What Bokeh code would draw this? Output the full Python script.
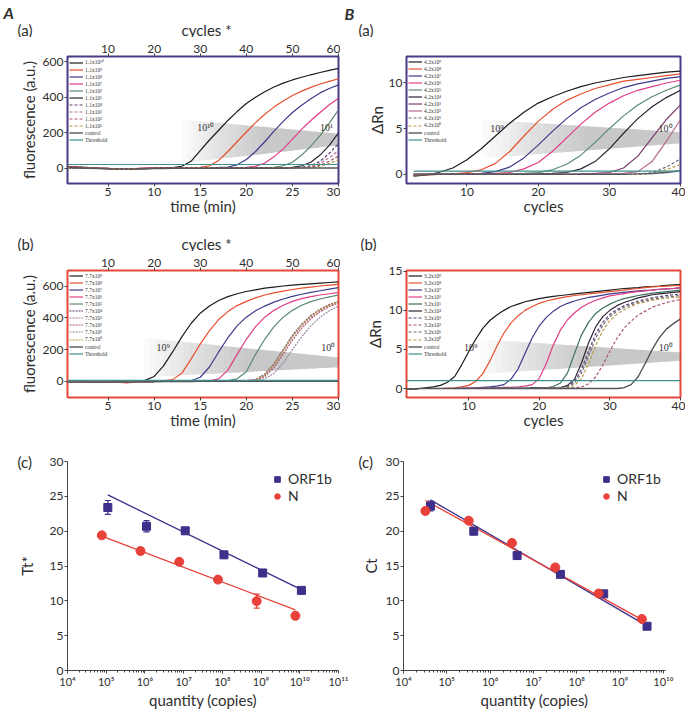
import math
from bokeh.plotting import figure
from bokeh.layouts import row, column
from bokeh.models import (Range1d, LinearAxis, FixedTicker, Label, Legend, LegendItem,
                          ColumnDataSource, Whisker, TeeHead, CustomJSTickFormatter, Title)
from bokeh.embed import file_html
from bokeh.resources import INLINE

FONT = "Lato"
TXT = "#2e2e2e"
SUP = str.maketrans("0123456789-", "⁰¹²³⁴⁵⁶⁷⁸⁹⁻")

# ---------------------------------------------------------------- colours
BLACK, RED, BLUE, PINK = "#1c1c1c", "#e8502e", "#3d3a8c", "#e23d87"
GREEN, DARK, CONTROL, THRESH = "#5b8a72", "#2b2233", "#55555f", "#3f8f8c"
D_PURPLE, D_MAUVE, D_ROSE, D_OLIVE, D_GREY = "#5b3f73", "#b0708e", "#a8556a", "#b99a45", "#6e6878"
FRAME_A, FRAME_B = "#4a3a88", "#e5493a"
ORF_C, N_C = "#3d2f8a", "#e8413a"

# ---------------------------------------------------------------- A(a) data
AA_TIME = [0.6, 2, 4, 6, 8, 10, 11, 12, 13, 14, 15, 16, 17, 18, 19, 20, 21, 22, 23, 24, 25, 26, 27, 28, 29, 30]
AA_PREFIX = "1.1x"
AA_EXP = [10, 9, 8, 7, 6, 5, 4, 3, 2, 1]
AA_CURVES = [
    [10, 8, 2, -3, -1, 2, 3, 5, 12, 40, 100, 160, 215, 270, 320, 365, 400, 432, 458, 480, 498, 513, 527, 540, 552, 563],
    [8, 6, 1, -3, -1, 1, 2, 3, 4, 5, 6, 15, 45, 95, 150, 205, 258, 305, 345, 380, 410, 435, 456, 475, 490, 505],
    [6, 5, 1, -2, -1, 1, 2, 2, 3, 3, 4, 5, 6, 8, 20, 50, 95, 150, 210, 265, 315, 355, 392, 425, 450, 470],
    [6, 5, 1, -2, -1, 1, 1, 2, 2, 3, 3, 3, 4, 4, 5, 6, 12, 30, 65, 110, 165, 220, 270, 315, 358, 395],
    [5, 4, 1, -2, -1, 0, 1, 1, 2, 2, 3, 3, 3, 4, 4, 4, 5, 5, 6, 15, 35, 75, 125, 185, 255, 330],
    [5, 4, 0, -3, -2, 0, 1, 1, 1, 2, 2, 2, 3, 3, 3, 3, 4, 4, 4, 5, 6, 15, 35, 75, 130, 200],
    [4, 3, 0, -3, -2, 0, 0, 1, 1, 1, 2, 2, 2, 2, 3, 3, 3, 3, 4, 4, 5, 6, 15, 40, 85, 140],
    [4, 3, 0, -3, -2, 0, 0, 1, 1, 1, 1, 2, 2, 2, 2, 3, 3, 3, 3, 4, 4, 4, 10, 28, 60, 100],
    [4, 3, 0, -3, -2, 0, 0, 0, 1, 1, 1, 1, 2, 2, 2, 2, 3, 3, 3, 3, 4, 4, 5, 18, 40, 70],
    [3, 2, 0, -3, -2, 0, 0, 0, 1, 1, 1, 1, 1, 2, 2, 2, 2, 2, 3, 3, 3, 3, 4, 12, 28, 50],
]
AA_CONTROL = [3, 2, -1, -4, -3, -1, -1, 0, 0, 0, 0, 0, 1, 1, 1, 1, 1, 1, 1, 1, 2, 2, 2, 2, 2, 2]
AA_THRESHOLD = 22
AA_WEDGE = [13.0, 30.0, 275, 30, 195, 130]      # x0, x1, top0, bottom0, top1, bottom1
AA_WLABELS = [(15.6, 228, "10¹⁰"), (28.7, 228, "10¹")]

# ---------------------------------------------------------------- A(b) data
AB_TIME = [0.6, 2, 4, 6, 7, 8, 9, 10, 11, 12, 13, 14, 15, 16, 17, 18, 19, 20, 21, 22, 23, 24, 25, 26, 27, 28, 29, 30]
AB_PREFIX = "7.7x"
AB_EXP = [9, 8, 7, 6, 5, 4, 3, 2, 1, 0]
AB_CURVES = [
    [-5, -3, -6, -4, -3, -2, 5, 30, 95, 185, 280, 365, 430, 475, 510, 535, 553, 567, 578, 588, 595, 602, 607, 612, 616, 620, 624, 628],
    [-4, -3, -5, -6, -10, -6, -2, 0, 2, 10, 50, 140, 235, 320, 390, 440, 478, 505, 527, 545, 558, 570, 580, 588, 595, 602, 607, 612],
    [-5, -4, -5, -4, -4, -3, -2, -1, 0, 0, 1, 3, 25, 90, 185, 275, 350, 405, 445, 475, 500, 520, 536, 550, 562, 572, 582, 592],
    [-4, -3, -4, -3, -3, -2, -2, -1, 0, 0, 0, 1, 1, 3, 15, 70, 170, 265, 345, 405, 448, 480, 505, 522, 535, 545, 553, 560],
    [-4, -3, -4, -3, -3, -2, -2, -1, 0, 0, 0, 1, 1, 1, 2, 4, 15, 60, 170, 265, 345, 405, 448, 480, 503, 520, 533, 545],
    [-5, -4, -5, -4, -4, -3, -2, -2, -1, -1, 0, 0, 0, 1, 1, 1, 2, 3, 10, 45, 110, 200, 290, 360, 415, 455, 485, 505],
    [-5, -4, -5, -4, -4, -3, -2, -2, -1, -1, 0, 0, 0, 1, 1, 1, 2, 3, 8, 38, 100, 190, 280, 352, 408, 450, 480, 500],
    [-5, -4, -5, -4, -4, -3, -2, -2, -1, -1, 0, 0, 0, 1, 1, 1, 2, 2, 5, 30, 85, 170, 260, 335, 395, 440, 472, 495],
    [-5, -4, -5, -4, -4, -3, -2, -2, -1, -1, 0, 0, 0, 1, 1, 1, 1, 2, 3, 15, 50, 115, 200, 280, 350, 405, 445, 475],
    [-5, -4, -5, -4, -4, -3, -2, -2, -1, -1, 0, 0, 0, 1, 1, 1, 2, 3, 9, 42, 105, 195, 285, 356, 410, 452, 482, 502],
]
AB_CONTROL = [-6, -5, -7, -5, -5, -4, -3, -3, -2, -2, -2, -2, -1, -1, -1, -1, -1, 0, 0, 0, 0, 0, 0, 0, 0, 0, 0, 0]
AB_THRESHOLD = 5
AB_WEDGE = [8.8, 30.0, 275, 25, 150, 88]
AB_WLABELS = [(11.0, 211, "10⁹"), (28.9, 211, "10⁰")]

# ---------------------------------------------------------------- B(a) data
BA_CYC = [2.5, 4, 6, 8, 10, 12, 14, 16, 18, 20, 22, 24, 26, 28, 30, 32, 34, 36, 38, 40]
BA_PREFIX = "4.2x"
BA_EXP = [9, 8, 7, 6, 5, 4, 3, 2, 1, 0]
BA_CURVES = [
    [-0.2, -0.1, 0.2, 0.7, 1.6, 2.8, 4.2, 5.6, 6.8, 7.8, 8.5, 9.1, 9.6, 10.0, 10.3, 10.6, 10.8, 11.0, 11.2, 11.3],
    [-0.1, -0.05, 0.0, 0.05, 0.2, 0.5, 1.2, 2.5, 4.2, 5.8, 7.1, 8.1, 8.8, 9.4, 9.8, 10.2, 10.4, 10.6, 10.8, 11.0],
    [-0.05, 0.0, 0.0, 0.0, 0.05, 0.1, 0.3, 0.8, 1.8, 3.2, 4.7, 6.1, 7.3, 8.2, 8.9, 9.5, 9.9, 10.2, 10.5, 10.7],
    [0.0, 0.0, 0.0, 0.0, 0.0, 0.05, 0.1, 0.2, 0.6, 1.3, 2.5, 4.0, 5.5, 6.8, 7.8, 8.6, 9.2, 9.6, 10.0, 10.3],
    [0.0, 0.0, 0.0, 0.0, 0.0, 0.0, 0.0, 0.05, 0.1, 0.2, 0.5, 1.1, 2.1, 3.5, 5.0, 6.4, 7.6, 8.5, 9.2, 9.8],
    [0.0, 0.0, 0.0, 0.0, 0.0, 0.0, 0.0, 0.0, 0.0, 0.05, 0.1, 0.2, 0.6, 1.4, 2.8, 4.5, 6.1, 7.4, 8.4, 9.2],
    [0.0, 0.0, 0.0, 0.0, 0.0, 0.0, 0.0, 0.0, 0.0, 0.0, 0.0, 0.0, 0.05, 0.1, 0.2, 0.7, 2.0, 4.0, 6.0, 7.6],
    [0.0, 0.0, 0.0, 0.0, 0.0, 0.0, 0.0, 0.0, 0.0, 0.0, 0.0, 0.0, 0.0, 0.0, 0.05, 0.1, 0.3, 1.4, 3.6, 6.0],
    [0.0, 0.0, 0.0, 0.0, 0.0, 0.0, 0.0, 0.0, 0.0, 0.0, 0.0, 0.0, 0.0, 0.0, 0.0, 0.0, 0.0, 0.2, 0.8, 1.7],
    [0.0, 0.0, 0.0, 0.0, 0.0, 0.0, 0.0, 0.0, 0.0, 0.0, 0.0, 0.0, 0.0, 0.0, 0.0, 0.0, 0.0, 0.1, 0.5, 1.1],
]
BA_CONTROL = [-0.1, -0.05, 0.0, 0.0, 0.0, 0.0, 0.0, 0.0, 0.0, 0.0, 0.0, 0.0, 0.0, 0.0, 0.0, 0.0, 0.05, 0.1, 0.2, 0.4]
BA_THRESHOLD = 0.35
BA_WEDGE = [12.2, 40.0, 6.0, 1.75, 4.6, 3.4]
BA_WLABELS = [(14.2, 5.05, "10⁹"), (37.9, 5.05, "10⁰")]

# ---------------------------------------------------------------- B(b) data
BB_CYC = [1.2, 3, 5, 6, 7, 8, 9, 10, 11, 12, 13, 14, 15, 16, 17, 18, 19, 20, 21, 22, 23, 24,
          25, 26, 27, 28, 29, 30, 31, 32, 33, 34, 35, 36, 37, 38, 39, 40]
BB_PREFIX = "3.2x"
BB_EXP = [9, 8, 7, 6, 5, 4, 3, 2, 1, 0]
BB_CURVES = [
    [-0.1, 0.0, 0.2, 0.4, 0.8, 1.5, 3.0, 4.7, 6.3, 7.7, 8.7, 9.4, 10.0, 10.5, 10.8, 11.1, 11.3, 11.5,
     11.65, 11.8, 11.9, 12.0, 12.1, 12.2, 12.3, 12.4, 12.5, 12.6, 12.7, 12.8, 12.85, 12.9, 13.0, 13.05, 13.1, 13.2, 13.25, 13.3],
    [-0.1, 0.0, 0.0, 0.0, 0.05, 0.1, 0.2, 0.4, 0.9, 1.9, 3.5, 5.4, 7.1, 8.4, 9.3, 10.0, 10.5, 10.9,
     11.2, 11.4, 11.6, 11.75, 11.9, 12.0, 12.1, 12.2, 12.3, 12.4, 12.5, 12.6, 12.7, 12.8, 12.9, 13.0, 13.05, 13.1, 13.15, 13.2],
    [-0.1, 0.0, 0.0, 0.0, 0.0, 0.0, 0.05, 0.05, 0.1, 0.15, 0.2, 0.3, 0.5, 1.2, 2.5, 4.5, 6.5, 8.0,
     9.1, 9.9, 10.5, 10.9, 11.2, 11.45, 11.65, 11.8, 11.95, 12.1, 12.2, 12.3, 12.4, 12.5, 12.55, 12.6, 12.7, 12.75, 12.8, 12.9],
    [-0.1, 0.0, 0.0, 0.0, 0.0, 0.0, 0.0, 0.05, 0.05, 0.1, 0.1, 0.1, 0.15, 0.15, 0.2, 0.3, 0.5, 1.3,
     3.2, 5.6, 7.5, 8.8, 9.7, 10.4, 10.9, 11.3, 11.6, 11.85, 12.0, 12.15, 12.3, 12.4, 12.5, 12.6, 12.7, 12.75, 12.8, 12.9],
    [-0.1, 0.0, 0.0, 0.0, 0.0, 0.0, 0.0, 0.0, 0.0, 0.05, 0.05, 0.05, 0.05, 0.05, 0.05, 0.05, 0.1, 0.1,
     0.1, 0.25, 0.7, 2.0, 4.5, 6.9, 8.5, 9.6, 10.3, 10.8, 11.2, 11.5, 11.7, 11.9, 12.05, 12.2, 12.3, 12.4, 12.5, 12.6],
    [-0.1, 0.0, 0.0, 0.0, 0.0, 0.0, 0.0, 0.0, 0.0, 0.0, 0.0, 0.0, 0.0, 0.0, 0.0, 0.0, 0.05, 0.05,
     0.05, 0.05, 0.1, 0.4, 1.2, 3.3, 5.9, 7.9, 9.2, 10.0, 10.6, 11.0, 11.3, 11.6, 11.8, 12.0, 12.1, 12.2, 12.3, 12.4],
    [-0.1, 0.0, 0.0, 0.0, 0.0, 0.0, 0.0, 0.0, 0.0, 0.0, 0.0, 0.0, 0.0, 0.0, 0.0, 0.0, 0.0, 0.05,
     0.05, 0.1, 0.15, 0.3, 0.9, 2.5, 4.8, 7.0, 8.5, 9.5, 10.1, 10.6, 10.9, 11.2, 11.4, 11.6, 11.75, 11.9, 12.0, 12.1],
    [-0.1, 0.0, 0.0, 0.0, 0.0, 0.0, 0.0, 0.0, 0.0, 0.0, 0.0, 0.0, 0.0, 0.0, 0.0, 0.0, 0.0, 0.0,
     0.0, 0.05, 0.05, 0.1, 0.1, 0.2, 0.6, 1.5, 3.0, 4.8, 6.4, 7.7, 8.6, 9.4, 9.9, 10.4, 10.7, 11.0, 11.2, 11.4],
    [-0.1, 0.0, 0.0, 0.0, 0.0, 0.0, 0.0, 0.0, 0.0, 0.0, 0.0, 0.0, 0.0, 0.0, 0.0, 0.0, 0.0, 0.05,
     0.05, 0.1, 0.1, 0.2, 0.7, 2.0, 4.2, 6.5, 8.1, 9.2, 9.9, 10.4, 10.7, 11.0, 11.2, 11.4, 11.55, 11.7, 11.8, 11.9],
    [-0.1, 0.0, 0.0, 0.0, 0.0, 0.0, 0.0, 0.0, 0.0, 0.0, 0.0, 0.0, 0.0, 0.0, 0.0, 0.0, 0.0, 0.0,
     0.05, 0.05, 0.1, 0.1, 0.4, 1.3, 3.2, 5.5, 7.4, 8.7, 9.5, 10.1, 10.5, 10.9, 11.1, 11.3, 11.45, 11.55, 11.65, 11.7],
]
BB_CONTROL = [-0.1, 0.0, 0.0, 0.0, 0.0, 0.0, 0.0, 0.0, 0.0, 0.0, 0.0, 0.0, 0.0, 0.0, 0.0, 0.0, 0.0, 0.0,
              0.0, 0.0, 0.0, 0.0, 0.0, 0.0, 0.0, 0.0, 0.0, 0.0, 0.0, 0.1, 0.5, 1.5, 3.2, 5.0, 6.5, 7.6, 8.3, 8.9]
BB_THRESHOLD = 1.0
BB_WEDGE = [11.7, 40.0, 6.3, 1.85, 4.6, 3.55]
BB_WLABELS = [(10.3, 5.25, "10⁹"), (37.9, 5.25, "10⁰")]

# ---------------------------------------------------------------- standard curves (c)
AC_ORF_Q = [1.1e5, 1.1e6, 1.1e7, 1.1e8, 1.1e9, 1.1e10]
AC_ORF_TT = [23.4, 20.7, 20.05, 16.6, 14.0, 11.5]
AC_ORF_ERR = [1.0, 0.8, 0.2, 0.4, 0.2, 0.2]
AC_N_Q = [7.7e4, 7.7e5, 7.7e6, 7.7e7, 7.7e8, 7.7e9]
AC_N_TT = [19.4, 17.15, 15.6, 13.05, 9.95, 7.85]
AC_N_ERR = [0.2, 0.4, 0.4, 0.2, 1.0, 0.5]
AC_ORF_FIT_Q, AC_ORF_FIT_TT = [1.1e5, 1.1e10], [25.2, 11.6]
AC_N_FIT_Q, AC_N_FIT_TT = [7.7e4, 7.7e9], [19.3, 8.7]

BC_ORF_Q = [4.2e4, 4.2e5, 4.2e6, 4.2e7, 4.2e8, 4.2e9]
BC_ORF_CT = [23.6, 20.0, 16.5, 13.8, 11.0, 6.35]
BC_ORF_ERR = [0.7, 0.5, 0.5, 0.2, 0.4, 0.2]
BC_N_Q = [3.2e4, 3.2e5, 3.2e6, 3.2e7, 3.2e8, 3.2e9]
BC_N_CT = [22.9, 21.5, 18.3, 14.8, 11.05, 7.4]
BC_N_ERR = [0.2, 0.2, 0.2, 0.2, 0.2, 0.2]
BC_ORF_FIT_Q, BC_ORF_FIT_CT = [4.2e4, 4.2e9], [24.5, 6.4]
BC_N_FIT_Q, BC_N_FIT_CT = [3.2e4, 3.2e9], [24.4, 7.3]

TIME_TICKS = [5, 10, 15, 20, 25, 30]
CYCLE_TOP_TICKS = [10, 20, 30, 40, 50, 60]
CYCLE_TICKS = [10, 20, 30, 40]
FLUOR_TICKS = [0, 200, 400, 600]
RN_TICKS_A = [0, 5, 10]
RN_TICKS_B = [0, 5, 10, 15]
CT_TICKS = [0, 5, 10, 15, 20, 25, 30]
EXP_TICKS_A = [4, 5, 6, 7, 8, 9, 10, 11]
EXP_TICKS_B = [4, 5, 6, 7, 8, 9, 10]

PAGE_W = 685


# ---------------------------------------------------------------- helpers
def base_fig(w, h, mb, xr, yr, **kw):
    p = figure(width=w, height=h, x_range=Range1d(*xr), y_range=Range1d(*yr),
               output_backend="svg", toolbar_location=None,
               min_border_left=mb[0], min_border_right=mb[1],
               min_border_top=mb[2], min_border_bottom=mb[3], **kw)
    p.grid.visible = False
    p.background_fill_color = "white"
    p.border_fill_color = "white"
    return p


def style_axis(ax, line=None, label="", label_standoff=0):
    ax.axis_line_color = line
    ax.major_tick_line_color = "#444444"
    ax.major_tick_out = 3
    ax.major_tick_in = 0
    ax.minor_tick_line_color = None
    ax.major_label_text_font = FONT
    ax.major_label_text_font_size = "12px"
    ax.major_label_text_color = TXT
    ax.major_label_standoff = 1
    ax.axis_label = label
    ax.axis_label_standoff = label_standoff
    ax.axis_label_text_font = FONT
    ax.axis_label_text_font_size = "15px"
    ax.axis_label_text_font_style = "normal"
    ax.axis_label_text_color = TXT


def header(h, texts):
    p = figure(width=PAGE_W, height=h, x_range=Range1d(0, PAGE_W), y_range=Range1d(h, 0),
               output_backend="svg", toolbar_location=None, min_border=0,
               x_axis_location=None, y_axis_location=None)
    p.outline_line_color = None
    p.grid.visible = False
    for s, x, y, size, style, baseline, align in texts:
        p.add_layout(Label(x=x, y=y, text=s, text_font=FONT, text_font_size=size,
                           text_font_style=style, text_baseline=baseline, text_align=align,
                           text_color=TXT))
    return p


def wedge(p, spec, n=16):
    x0, x1, t0, b0, t1, b1 = spec
    xs, ys = [], []
    ramp = 0.55
    for i in range(n):
        f = ramp * i / n
        xa = x0 + (x1 - x0) * f
        ta = t0 + (t1 - t0) * f
        ba = b0 + (b1 - b0) * f
        xs.append([xa, x1, x1, xa])
        ys.append([ta, t1, b1, ba])
    a = 1 - 0.56 ** (1.0 / n)
    p.patches(xs, ys, fill_color="#8c8c8c", fill_alpha=a, line_color=None)


def curve_panel(w, h, mb, xr, yr, frame, x, curves, control, thr, prefix, exps,
                styles, xticks, yticks, wedge_spec, wlabels, top_axis, xlabel, ylabel, ylab_standoff):
    p = base_fig(w, h, mb, xr, yr)
    p.outline_line_color = frame
    p.outline_line_width = 2
    p.xaxis.ticker = FixedTicker(ticks=xticks)
    p.yaxis.ticker = FixedTicker(ticks=yticks)
    style_axis(p.xaxis[0], label=xlabel, label_standoff=-2)
    style_axis(p.yaxis[0], label=ylabel, label_standoff=ylab_standoff)
    if top_axis:
        p.extra_x_ranges = {"cyc": Range1d(2 * xr[0], 2 * xr[1])}
        ta = LinearAxis(x_range_name="cyc", ticker=FixedTicker(ticks=CYCLE_TOP_TICKS))
        style_axis(ta)
        p.add_layout(ta, "above")
    wedge(p, wedge_spec)
    for (lx, ly, s) in wlabels:
        p.add_layout(Label(x=lx, y=ly, text=s, text_font="Liberation Serif",
                           text_font_size="10px", text_color="#333333",
                           text_align="center", text_baseline="middle"))
    items = []
    for ys, e, (col, dash) in zip(curves, exps, styles):
        r = p.line(x, ys, line_color=col, line_dash=dash, line_width=1.2)
        items.append(LegendItem(label=f"{prefix}10{str(e).translate(SUP)}", renderers=[r]))
    rc = p.line(x, control, line_color=CONTROL, line_width=1.4)
    items.append(LegendItem(label="control", renderers=[rc]))
    rt = p.line(x, [thr] * len(x), line_color=THRESH, line_width=1.2)
    items.append(LegendItem(label="Threshold", renderers=[rt]))
    leg = Legend(items=items, location="top_left", margin=2, padding=1, spacing=0,
                 label_text_font="Liberation Serif", label_text_font_size="5.5px",
                 label_text_color="#333333", label_height=7, glyph_height=7,
                 glyph_width=14, label_standoff=2, border_line_color=None,
                 background_fill_alpha=0)
    p.add_layout(leg)
    return p


def log_formatter():
    return CustomJSTickFormatter(code="""
        const s = {"0":"\u2070","1":"\u00b9","2":"\u00b2","3":"\u00b3","4":"\u2074",
                   "5":"\u2075","6":"\u2076","7":"\u2077","8":"\u2078","9":"\u2079"};
        const e = Math.round(Math.log10(tick));
        return "10" + String(e).split("").map(c => s[c]).join("");
    """)


def std_panel(w, h, mb, xr, exps, oq, oy, oe, nq, ny, ne, ofq, ofy, nfq, nfy,
              fw, fh, ylabel, ylab_standoff, tag_offset, leg_x):
    p = base_fig(w, h, mb, xr, (0, 30), x_axis_type="log")
    p.outline_line_color = None
    majors = [10.0 ** e for e in exps]
    minors = [m * 10.0 ** e for e in exps[:-1] for m in range(2, 10) if m * 10.0 ** e <= xr[1]]
    p.xaxis.ticker = FixedTicker(ticks=majors, minor_ticks=minors)
    p.yaxis.ticker = FixedTicker(ticks=CT_TICKS)
    style_axis(p.xaxis[0], line="#444444", label="quantity (copies)", label_standoff=0)
    style_axis(p.yaxis[0], line="#444444", label=ylabel, label_standoff=ylab_standoff)
    p.xaxis.formatter = log_formatter()
    p.xaxis.major_label_text_font_size = "11px"
    p.xaxis.minor_tick_line_color = "#444444"
    p.xaxis.minor_tick_out = 2
    p.xaxis.minor_tick_in = 0

    p.add_layout(Title(text="(c)", align="left", offset=tag_offset, standoff=-19,
                       text_font=FONT, text_font_size="15px", text_font_style="normal",
                       text_color=TXT), "above")

    p.line(ofq, ofy, line_color=ORF_C, line_width=1.3)
    p.line(nfq, nfy, line_color=N_C, line_width=1.3)
    for q, y, e, c in ((oq, oy, oe, ORF_C), (nq, ny, ne, N_C)):
        src = ColumnDataSource(dict(x=q, lo=[a - b for a, b in zip(y, e)], hi=[a + b for a, b in zip(y, e)]))
        p.add_layout(Whisker(source=src, base="x", lower="lo", upper="hi", line_color=c, line_width=1.2,
                             upper_head=TeeHead(size=6, line_color=c, line_width=1.2),
                             lower_head=TeeHead(size=6, line_color=c, line_width=1.2)))
    ro = p.scatter(oq, oy, marker="square", size=8, fill_color=ORF_C, line_color=ORF_C)
    rn = p.scatter(nq, ny, marker="circle", size=9, fill_color=N_C, line_color=N_C)
    leg = Legend(items=[LegendItem(label="ORF1b", renderers=[ro]), LegendItem(label="N", renderers=[rn])],
                 location=(leg_x, fh - 46), margin=0, padding=0, spacing=0,
                 label_text_font=FONT, label_text_font_size="14px", label_text_color=TXT,
                 label_height=14, glyph_height=14, glyph_width=14, label_standoff=4,
                 border_line_color=None, background_fill_alpha=0)
    p.add_layout(leg)
    return p


SOLID, DASH = "solid", "3 2"

# ---------------------------------------------------------------- headers
H1 = header(37, [
    ("A", 3, 2, "16px", "bold italic", "top", "left"),
    ("(a)", 17, 29, "15px", "normal", "middle", "left"),
    ("cycles *", 206, 29, "15px", "normal", "middle", "center"),
    ("B", 344, 3, "16px", "bold italic", "top", "left"),
    ("(a)", 358, 29, "15px", "normal", "middle", "left"),
])
H2 = header(31, [
    ("(b)", 17, 23, "15px", "normal", "middle", "left"),
    ("cycles *", 206, 23, "15px", "normal", "middle", "center"),
    ("(b)", 360, 23, "15px", "normal", "middle", "left"),
])

# ---------------------------------------------------------------- panels
pAa = curve_panel(340, 183, (67, 2, 19, 37), (0.6, 30), (-85, 630), FRAME_A, AA_TIME, AA_CURVES,
                  AA_CONTROL, AA_THRESHOLD, AA_PREFIX, AA_EXP,
                  [(BLACK, SOLID), (RED, SOLID), (BLUE, SOLID), (PINK, SOLID), (GREEN, SOLID), (DARK, SOLID),
                   (D_PURPLE, DASH), (D_MAUVE, DASH), (D_ROSE, DASH), (D_OLIVE, DASH)],
                  TIME_TICKS, FLUOR_TICKS, AA_WEDGE, AA_WLABELS, True,
                  "time (min)", "fluorescence (a.u.)", 2)

pBa = curve_panel(345, 183, (66, 5, 19, 37), (1.5, 40), (-1, 12.9), FRAME_A, BA_CYC, BA_CURVES,
                  BA_CONTROL, BA_THRESHOLD, BA_PREFIX, BA_EXP,
                  [(BLACK, SOLID), (RED, SOLID), (BLUE, SOLID), (PINK, SOLID), (GREEN, SOLID), (DARK, SOLID),
                   ("#7a3a6e", SOLID), ("#b46a88", SOLID), (D_GREY, DASH), (D_OLIVE, DASH)],
                  CYCLE_TICKS, RN_TICKS_A, BA_WEDGE, BA_WLABELS, False,
                  "cycles", "ΔRn", 0)

pAb = curve_panel(340, 183, (67, 2, 19, 37), (0.6, 30), (-103, 700), FRAME_B, AB_TIME, AB_CURVES,
                  AB_CONTROL, AB_THRESHOLD, AB_PREFIX, AB_EXP,
                  [(BLACK, SOLID), (RED, SOLID), (BLUE, SOLID), (PINK, SOLID), (GREEN, SOLID),
                   (D_PURPLE, "2 1"), (D_MAUVE, "2 1"), (D_ROSE, "2 1"), ("#9a8aa8", "2 1"), (D_OLIVE, "2 1")],
                  TIME_TICKS, FLUOR_TICKS, AB_WEDGE, AB_WLABELS, True,
                  "time (min)", "fluorescence (a.u.)", 2)

pBb = curve_panel(345, 183, (66, 5, 19, 37), (1.2, 40), (-1.15, 15.1), FRAME_B, BB_CYC, BB_CURVES,
                  BB_CONTROL, BB_THRESHOLD, BB_PREFIX, BB_EXP,
                  [(BLACK, SOLID), (RED, SOLID), (BLUE, SOLID), (PINK, SOLID), ("#3f6f5f", SOLID), (DARK, SOLID),
                   (D_PURPLE, DASH), (D_ROSE, DASH), (D_GREY, DASH), (D_OLIVE, DASH)],
                  CYCLE_TICKS, RN_TICKS_B, BB_WEDGE, BB_WLABELS, False,
                  "cycles", "ΔRn", 2)

FH3 = 212
pAc = std_panel(352, 277, (67, 14, 27, 38), (1e4, 1e11), EXP_TICKS_A,
                AC_ORF_Q, AC_ORF_TT, AC_ORF_ERR, AC_N_Q, AC_N_TT, AC_N_ERR,
                AC_ORF_FIT_Q, AC_ORF_FIT_TT, AC_N_FIT_Q, AC_N_FIT_TT, 271, FH3, "Tt*", 11, -50, 203)
pBc = std_panel(333, 277, (51, 20, 27, 38), (1e4, 10 ** 10.05), EXP_TICKS_B,
                BC_ORF_Q, BC_ORF_CT, BC_ORF_ERR, BC_N_Q, BC_N_CT, BC_N_ERR,
                BC_ORF_FIT_Q, BC_ORF_FIT_CT, BC_N_FIT_Q, BC_N_FIT_CT, 262, FH3, "Ct", 3, -45, 196)

layout = column(H1, row(pAa, pBa, spacing=0), H2, row(pAb, pBb, spacing=0),
                row(pAc, pBc, spacing=0), spacing=0)

with open("out.html", "w", encoding="utf-8") as f:
    f.write(file_html(layout, INLINE))
